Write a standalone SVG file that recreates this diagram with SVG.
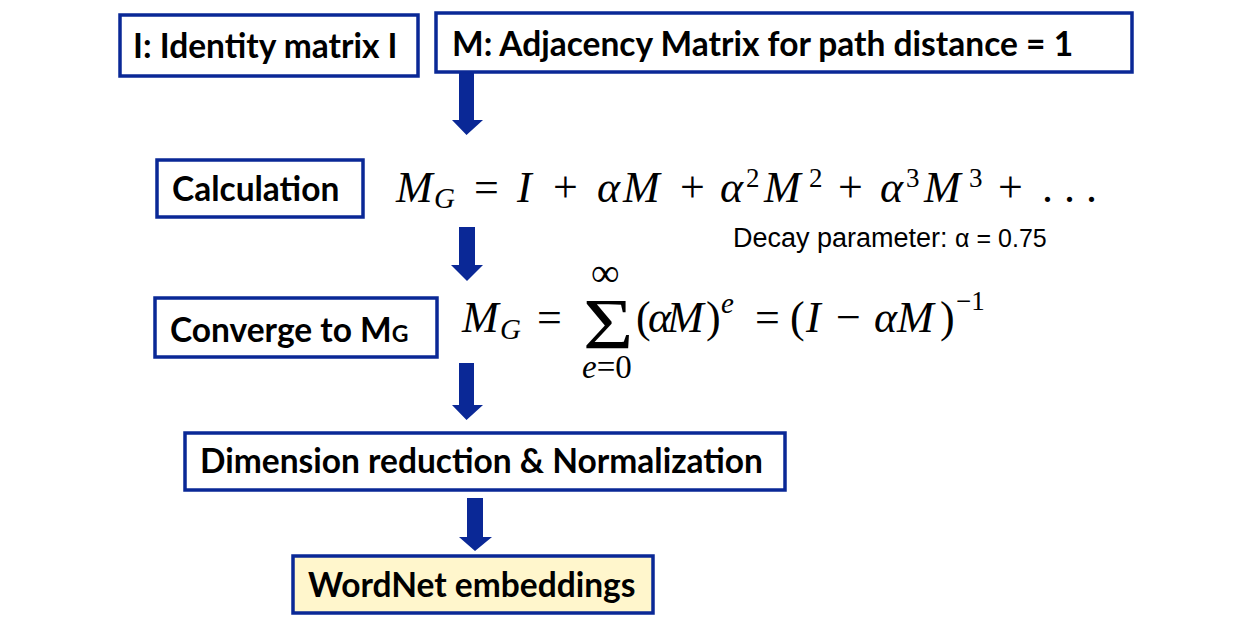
<svg xmlns="http://www.w3.org/2000/svg" width="1241" height="628" viewBox="0 0 1241 628">
<style>
.box{fill:#fff;stroke:#0a2896;stroke-width:3.5}
.yel{fill:#fff6cc}
.lbl{font-family:Lato,"Open Sans",sans-serif;font-weight:bold;font-size:33.5px;fill:#000}
.m{font-family:"Liberation Serif","DejaVu Serif",serif;font-size:44px;fill:#000}
.i{font-style:italic}
.sub{font-size:29px}
.sup{font-size:27px}
.arr{fill:#0a2896}
.cap{font-family:"Liberation Sans",Arial,sans-serif;font-size:27px;fill:#000}
</style>
<rect width="1241" height="628" fill="#fff"/>
<g id="connectors">
<polygon class="arr" points="459,71 474,71 474,120 483,120 466.5,135 452,120 459,120"/>
<polygon class="arr" points="459,227 475,227 475,265 483,265 467,281 451,265 459,265"/>
<polygon class="arr" points="459,363 474,363 474,405 483,405 466.5,420 452,405 459,405"/>
<polygon class="arr" points="467,498 483,498 483,537 492,537 475,551 459,537 467,537"/>
</g>
<g id="node-identity">
<rect class="box" x="120" y="15" width="298" height="61"/>
<text class="lbl" x="133" y="58">I: Identity matrix I</text>
</g>
<g id="node-adjacency">
<rect class="box" x="436" y="13" width="696" height="59"/>
<text class="lbl" x="452" y="56">M: Adjacency Matrix for path distance = 1</text>
</g>
<g id="node-calculation">
<rect class="box" x="157" y="160" width="206" height="57"/>
<text class="lbl" x="172" y="201">Calculation</text>
</g>
<g id="formula-1">
<text class="m" y="202"><tspan class="i" x="396">M</tspan><tspan class="i sub" x="434" y="208">G</tspan><tspan x="474" y="202">=</tspan><tspan class="i" x="517">I</tspan><tspan x="553">+</tspan><tspan class="i" x="597">α</tspan><tspan class="i" x="623">M</tspan><tspan x="680">+</tspan><tspan class="i" x="720">α</tspan><tspan class="sup" x="746" y="187">2</tspan><tspan class="i" x="764" y="202">M</tspan><tspan class="sup" x="809" y="187">2</tspan><tspan x="838" y="202">+</tspan><tspan class="i" x="880">α</tspan><tspan class="sup" x="906" y="187">3</tspan><tspan class="i" x="924" y="202">M</tspan><tspan class="sup" x="969" y="187">3</tspan><tspan x="998" y="202">+</tspan><tspan x="1042">. . .</tspan></text>
<text class="cap" x="733" y="247">Decay parameter: <tspan font-size="25">α = 0.75</tspan></text>
</g>
<g id="node-converge">
<rect class="box" x="155" y="298" width="282" height="59"/>
<text class="lbl" x="170" y="342">Converge to M<tspan font-size="23">G</tspan></text>
</g>
<g id="formula-2">
<text class="m" y="332"><tspan class="i" x="462">M</tspan><tspan class="i sub" x="500" y="339">G</tspan><tspan x="537" y="332">=</tspan><tspan x="636" y="332">(</tspan><tspan class="i" x="648">α</tspan><tspan class="i" x="667">M</tspan><tspan x="706">)</tspan><tspan class="i sub" x="721" y="313">e</tspan><tspan x="755" y="332">=</tspan><tspan x="790">(</tspan><tspan class="i" x="806">I</tspan><tspan x="836">−</tspan><tspan class="i" x="874">α</tspan><tspan class="i" x="897">M</tspan><tspan x="940">)</tspan><tspan class="sup" x="956" y="310">−1</tspan></text>
<text class="m" transform="translate(583,348) scale(1.2,1)" style="font-size:72px">Σ</text>
<text class="m" x="591" y="286" style="font-size:40px">∞</text>
<text class="m" x="582" y="378" style="font-size:33px"><tspan class="i">e</tspan>=0</text>
</g>
<g id="node-dimension">
<rect class="box" x="185" y="433" width="600" height="57"/>
<text class="lbl" x="200" y="473">Dimension reduction &amp; Normalization</text>
</g>
<g id="node-wordnet">
<rect class="box yel" x="293" y="556" width="360" height="57"/>
<text class="lbl" x="308" y="597">WordNet embeddings</text>
</g>
</svg>
